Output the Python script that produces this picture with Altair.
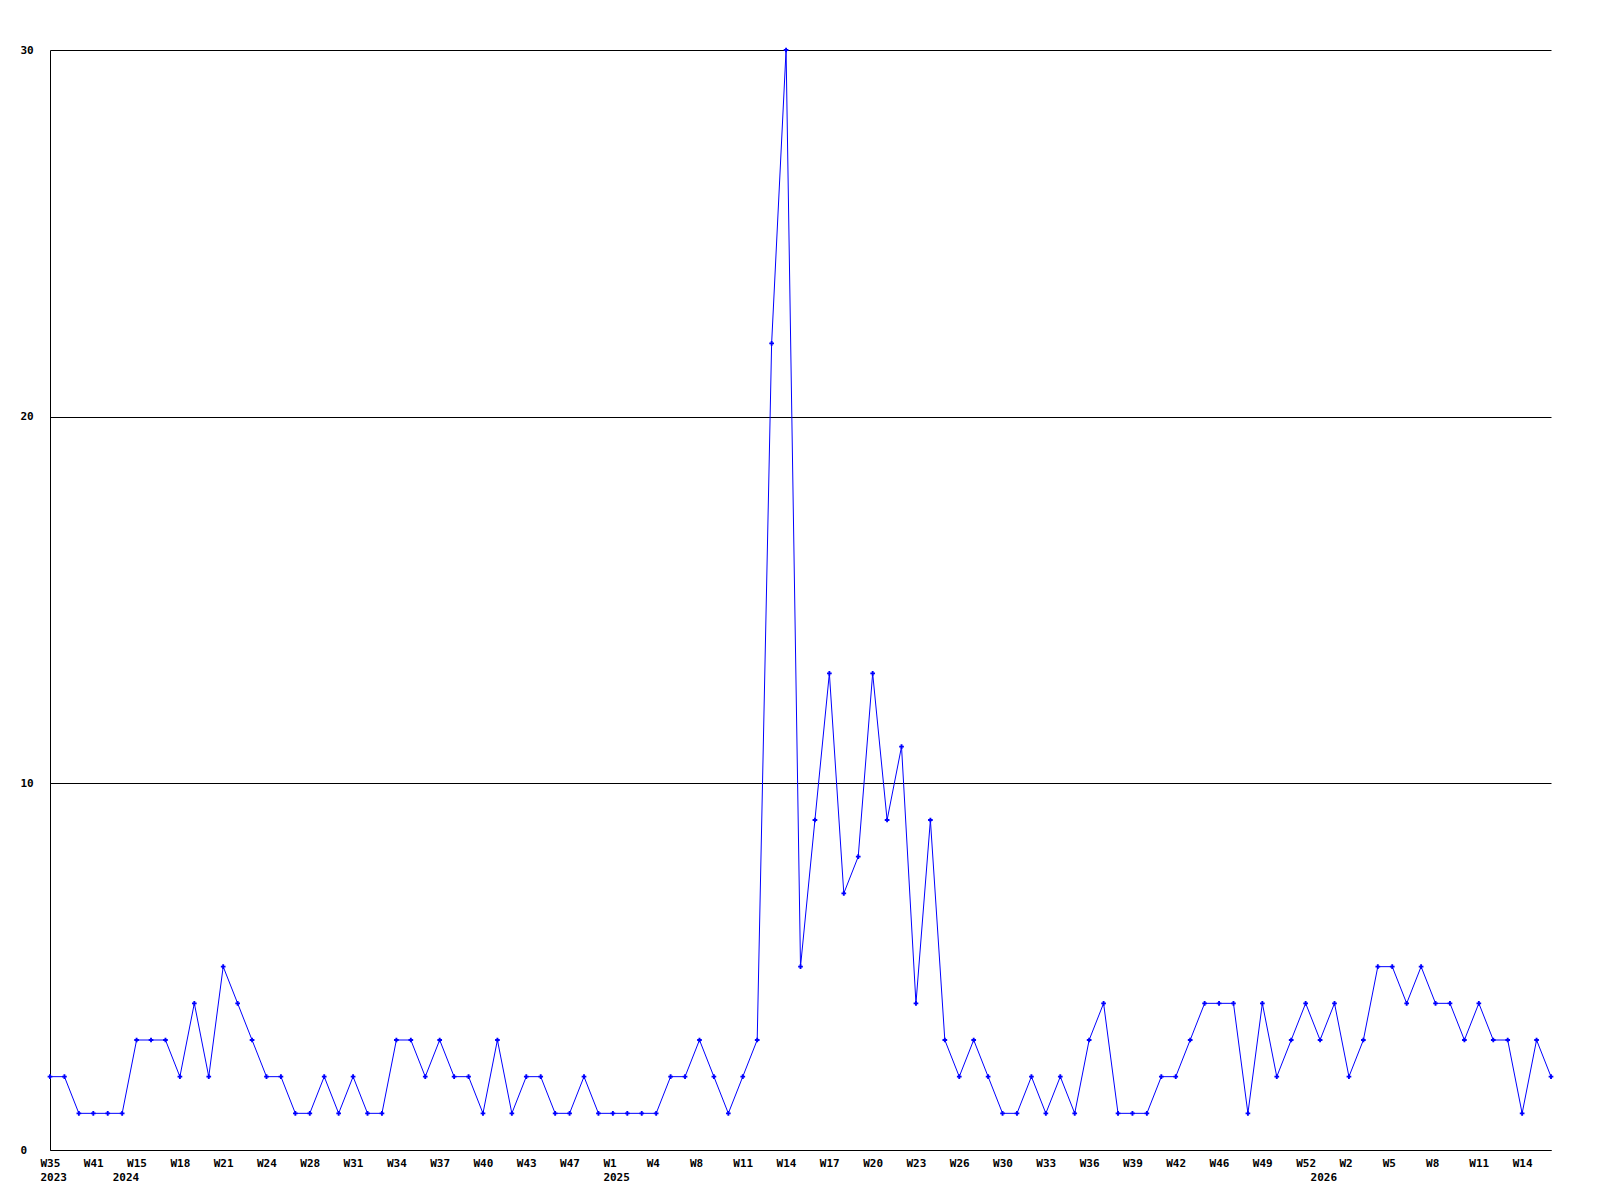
import json
import altair as alt
import pandas as pd

# weekly counts, in order of appearance (105 points)
values = [
    2, 2, 1, 1, 1, 1, 3, 3, 3, 2, 4, 2, 5, 4, 3, 2, 2, 1, 1, 2, 1, 2, 1, 1, 3, 3,
    2, 3, 2, 2, 1, 3, 1, 2, 2, 1, 1, 2, 1, 1, 1, 1, 1, 2, 2, 3, 2, 1, 2, 3,
    22, 30, 5, 9, 13, 7, 8, 13, 9, 11, 4, 9,
    3, 2, 3, 2, 1, 1, 2, 1, 2, 1, 3, 4, 1, 1, 1, 2, 2, 3,
    4, 4, 4, 1, 4, 2, 3, 4, 3, 4, 2, 3, 5, 5, 4, 5, 4, 4, 3, 4, 3, 3, 1, 3, 2,
]

# week labels shown under every third point
week_ticks = [
    "W35", "W41", "W15", "W18", "W21", "W24", "W28", "W31", "W34", "W37",
    "W40", "W43", "W47", "W1", "W4", "W8", "W11", "W14", "W17", "W20",
    "W23", "W26", "W30", "W33", "W36", "W39", "W42", "W46", "W49", "W52",
    "W2", "W5", "W8", "W11", "W14",
]

# first point of each year
year_points = [0, 5, 39, 88]
year_names = ["2023", "2024", "2025", "2026"]

y_ticks = [0, 10, 20, 30]

n = len(values)
df = pd.DataFrame({"i": list(range(n)), "v": values})

labels = [""] * n
for k, w in enumerate(week_ticks):
    labels[k * 3] = w
for p, yname in zip(year_points, year_names):
    labels[p] = [labels[p] if isinstance(labels[p], str) else "", yname]
tick_vals = sorted(set(range(0, n, 3)) | set(year_points))
label_expr = json.dumps(labels) + "[datum.value]"

FONT = "DejaVu Sans Mono"

x = alt.X(
    "i:Q",
    scale=alt.Scale(domain=[0, n - 1], nice=False, zero=False),
    axis=alt.Axis(
        values=tick_vals,
        labelExpr=label_expr,
        title=None,
        ticks=False,
        grid=False,
        domainColor="black",
        domainWidth=1,
        labelAlign="left",
        labelOffset=-10,
        labelBaseline="top",
        labelPadding=7,
        labelLineHeight=14,
        labelFont=FONT,
        labelFontWeight="bold",
        labelFontSize=11,
        labelColor="black",
        labelOverlap=False,
        labelFlush=False,
    ),
)
y = alt.Y(
    "v:Q",
    scale=alt.Scale(domain=[0, 30], nice=False),
    axis=alt.Axis(
        values=y_ticks,
        title=None,
        ticks=False,
        grid=True,
        gridColor="black",
        gridOpacity=1,
        gridWidth=1,
        domainColor="black",
        domainWidth=1,
        labelAlign="left",
        labelBaseline="middle",
        labelPadding=30,
        labelFont=FONT,
        labelFontWeight="bold",
        labelFontSize=11,
        labelColor="black",
        labelFlush=False,
        labelOverlap=False,
    ),
)

base = alt.Chart(df).encode(x=x, y=y)
line = base.mark_line(color="#0000ff", strokeWidth=1)
pts = base.mark_point(shape="cross", filled=True, size=22, color="#0000ff", opacity=1)

chart = (
    alt.layer(line, pts)
    .properties(
        width=1501,
        height=1100,
        autosize=alt.AutoSizeParams(type="none"),
        padding={"left": 42, "top": 42, "right": 30, "bottom": 40},
        view=alt.ViewBackground(strokeOpacity=0, strokeWidth=0),
    )
    .configure_view(strokeOpacity=0, strokeWidth=0)
    .configure(background="white")
)

chart.save("out.html", embed_options={"renderer": "svg", "actions": False})
